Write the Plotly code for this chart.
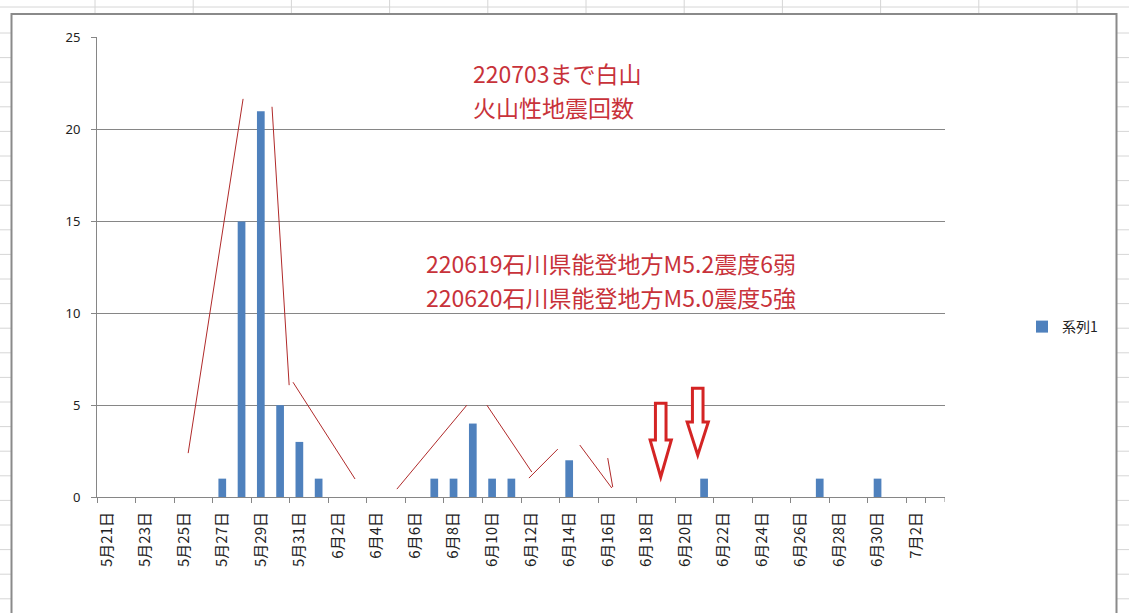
import plotly.graph_objects as go
import pandas as pd

# ---------------- data ----------------
dates = pd.date_range("2022-05-21", "2022-07-03", freq="D")
date_labels = [f"{d.month}月{d.day}日" for d in dates]
counts = [0, 0, 0, 0, 0, 0, 1, 15, 21, 5, 3, 1,
          0, 0, 0, 0, 0, 1, 1, 4, 1, 1, 0, 0,
          2, 0, 0, 0, 0, 0, 0, 1, 0, 0, 0, 0,
          0, 1, 0, 0, 1, 0, 0, 0]
tick_labels = date_labels[::2]
series_name = "系列1"

# text notes: (text, category index of left edge, value at line centre)
notes = [
    ("220703まで白山", 18.95, 23.10),
    ("火山性地震回数", 18.95, 21.25),
    ("220619石川県能登地方M5.2震度6弱", 16.52, 12.72),
    ("220620石川県能登地方M5.0震度5強", 16.52, 10.87),
]

# hand-drawn red trend lines (category index, value)
trend_lines = [
    (4.23, 2.39, 7.08, 21.68),
    (8.58, 21.25, 9.47, 6.09),
    (9.67, 6.25, 12.89, 0.98),
    (15.06, 0.43, 18.69, 5.0),
    (19.73, 5.0, 22.06, 1.36),
    (21.91, 1.03, 23.41, 2.61),
    (24.55, 2.83, 26.21, 0.49),
    (26.0, 2.12, 26.26, 0.54),
]
# hollow down arrows: (center index, top value, head-start value, tip value)
arrows = [
    (28.75, 5.1, 3.1, 1.09),
    (30.67, 5.92, 4.08, 2.28),
]

# ---------------- layout geometry ----------------
W, H = 1129, 613
ML, MR, MT, MB = 97, 184, 37, 116
PW, PH = W - ML - MR, H - MT - MB


def px(xp):
    return (xp - ML) / PW


def py(yp):
    return (H - MB - yp) / PH


fig = go.Figure()
fig.add_trace(go.Bar(
    x=date_labels, y=counts, name=series_name,
    marker=dict(color="#4F81BD", line=dict(width=0)),
    showlegend=True,
))

shapes = []
GRID = "#d6d6d6"
AX = "#868686"
# spreadsheet background: top row
shapes.append(dict(type="line", xref="paper", yref="paper", x0=px(0), x1=px(W),
                   y0=py(7), y1=py(7), line=dict(color=GRID, width=1), layer="below"))
for k in range(-1, 11):
    xp = 95 + 98.2 * k
    shapes.append(dict(type="line", xref="paper", yref="paper", x0=px(xp), x1=px(xp),
                       y0=py(0), y1=py(14), line=dict(color=GRID, width=1), layer="below"))
# spreadsheet rows on both sides
for k in range(0, 25):
    yp = 33 + 24.6 * k
    shapes.append(dict(type="line", xref="paper", yref="paper", x0=px(0), x1=px(11),
                       y0=py(yp), y1=py(yp), line=dict(color=GRID, width=1), layer="below"))
    shapes.append(dict(type="line", xref="paper", yref="paper", x0=px(1117), x1=px(W),
                       y0=py(yp), y1=py(yp), line=dict(color=GRID, width=1), layer="below"))
# chart area border
shapes.append(dict(type="rect", xref="paper", yref="paper", x0=px(11.5), x1=px(1116.5),
                   y0=py(14), y1=py(630), line=dict(color="#8a8a8a", width=2),
                   fillcolor="rgba(0,0,0,0)", layer="below"))
# closing tick mark at the right end of the category axis
shapes.append(dict(type="line", xref="x", yref="paper", x0=len(date_labels) - 0.5,
                   x1=len(date_labels) - 0.5, y0=0, y1=py(H - MB + 5),
                   line=dict(color=AX, width=1)))

# red trend lines
for x0, y0, x1, y1 in trend_lines:
    shapes.append(dict(type="line", xref="x", yref="y", x0=x0, y0=y0, x1=x1, y1=y1,
                       line=dict(color="#b02a2a", width=1)))

# hollow arrows
SHAFT, HEAD = 0.275, 0.55
for cx, top, hs, tip in arrows:
    path = (f"M {cx-SHAFT},{top} L {cx+SHAFT},{top} L {cx+SHAFT},{hs} "
            f"L {cx+HEAD},{hs} L {cx},{tip} L {cx-HEAD},{hs} L {cx-SHAFT},{hs} Z")
    shapes.append(dict(type="path", xref="x", yref="y", path=path,
                       line=dict(color="#d42424", width=3), fillcolor="white"))

RED_FONT = dict(family="Noto Sans CJK JP, sans-serif", size=23, color="#c8323a")
annotations = [
    dict(x=nx, y=ny, xref="x", yref="y", text=txt, showarrow=False,
         xanchor="left", yanchor="middle", align="left", font=RED_FONT, borderpad=0)
    for txt, nx, ny in notes
]

fig.update_layout(
    width=W, height=H,
    margin=dict(l=ML, r=MR, t=MT, b=MB),
    paper_bgcolor="white", plot_bgcolor="white",
    bargap=0.6,
    shapes=shapes,
    annotations=annotations,
    showlegend=True,
    legend=dict(x=px(1022), y=py(327), xanchor="left", yanchor="middle",
                font=dict(family="Noto Sans CJK JP, sans-serif", size=14, color="#222"),
                bgcolor="rgba(0,0,0,0)", itemwidth=30),
    xaxis=dict(
        type="category", categoryorder="array", categoryarray=date_labels,
        tickmode="array", tickvals=tick_labels, ticktext=tick_labels,
        tickson="boundaries", ticks="outside", ticklen=5, tickcolor=AX,
        showline=True, linecolor=AX, linewidth=1, showgrid=False,
        tickangle=-90, ticklabelstandoff=8,
        tickfont=dict(family="Noto Sans CJK JP, sans-serif", size=15, color="#222"),
        range=[-0.5, len(date_labels) - 0.5],
    ),
    yaxis=dict(
        range=[0, 25.05], dtick=5, tick0=0,
        ticks="outside", ticklen=5, tickcolor=AX,
        showline=True, linecolor=AX, linewidth=1,
        showgrid=True, gridcolor=AX, gridwidth=1, zeroline=False,
        ticklabelstandoff=8,
        tickfont=dict(family="Noto Sans, sans-serif", size=13, color="#222"),
    ),
)

fig.write_html("out.html")
